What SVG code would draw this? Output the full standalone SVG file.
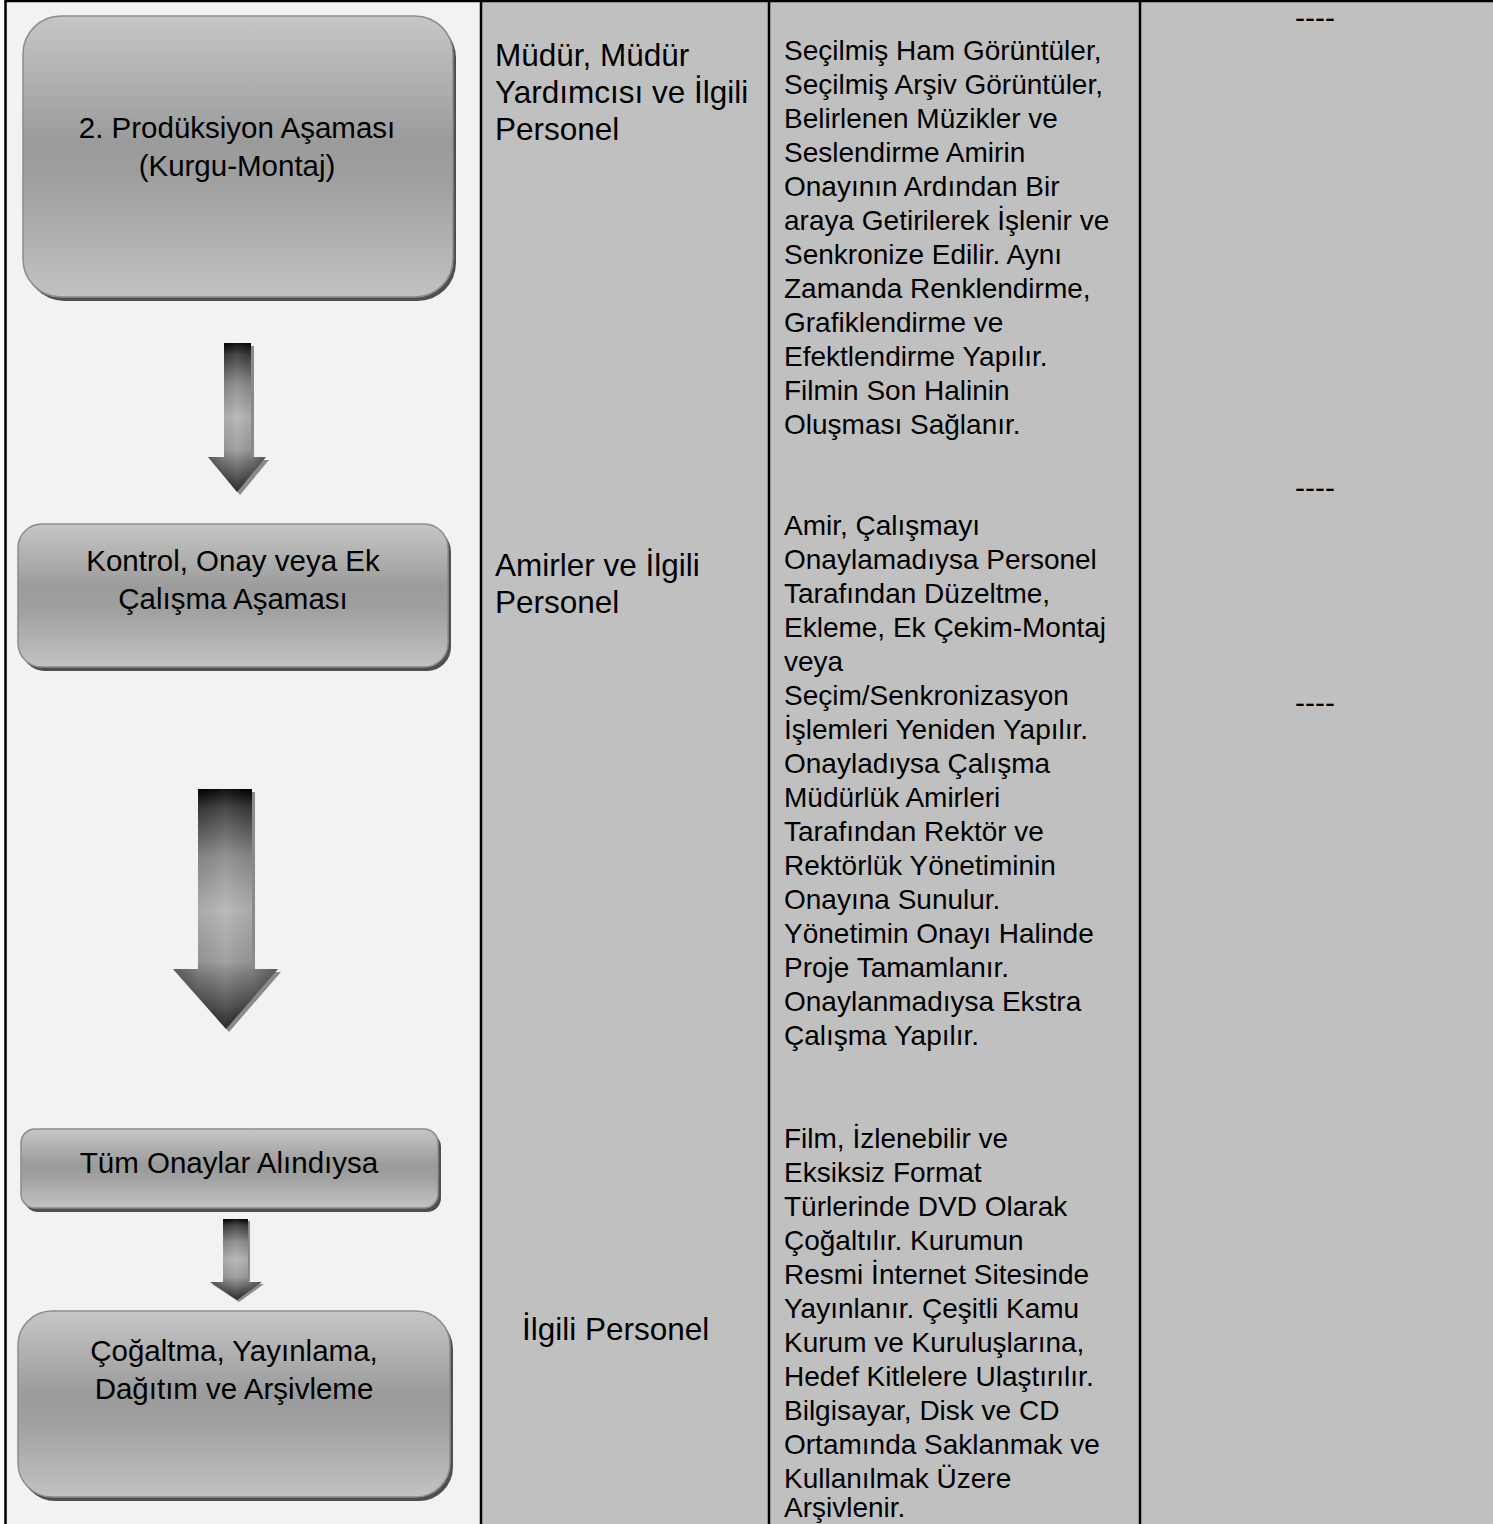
<svg xmlns="http://www.w3.org/2000/svg" width="1493" height="1524" viewBox="0 0 1493 1524">
<defs>
<style>
text{font-family:"Liberation Sans",Arial,sans-serif;fill:#000;}
.t{font-size:28px;}
.r{font-size:31.5px;}
.c{font-size:29.5px;text-anchor:middle;}
.d{font-size:30px;text-anchor:middle;}
.box{fill:url(#bg);stroke:#8c8c8c;stroke-width:1.5;}
.sh{fill:#4f4f4f;}
.grid{stroke:#000;stroke-width:2.5;fill:none;}
.arr{fill:url(#ag);}
.arrh{fill:url(#ah);}
.ash{fill:#8a8a8a;}
</style>
<linearGradient id="bg" x1="0" y1="0" x2="0" y2="1">
<stop offset="0" stop-color="#c6c6c6"/>
<stop offset="0.45" stop-color="#9b9b9b"/>
<stop offset="0.6" stop-color="#a0a0a0"/>
<stop offset="1" stop-color="#c2c2c2"/>
</linearGradient>
<linearGradient id="ag" x1="0" y1="0" x2="0" y2="1">
<stop offset="0" stop-color="#000"/>
<stop offset="0.08" stop-color="#3a3a3a"/>
<stop offset="0.28" stop-color="#8a8a8a"/>
<stop offset="0.5" stop-color="#b4b4b4"/>
<stop offset="0.72" stop-color="#9a9a9a"/>
<stop offset="0.76" stop-color="#858585"/>
<stop offset="0.9" stop-color="#4a4a4a"/>
<stop offset="1" stop-color="#1a1a1a"/>
</linearGradient>
<linearGradient id="ah" x1="0" y1="0" x2="1" y2="0">
<stop offset="0" stop-color="#000" stop-opacity="0.35"/>
<stop offset="0.25" stop-color="#000" stop-opacity="0.05"/>
<stop offset="0.5" stop-color="#fff" stop-opacity="0.08"/>
<stop offset="0.75" stop-color="#000" stop-opacity="0.05"/>
<stop offset="1" stop-color="#000" stop-opacity="0.35"/>
</linearGradient>
</defs>

<g id="table">
<rect x="5" y="0" width="476" height="1524" fill="#f2f2f2"/>
<rect x="481" y="0" width="1012" height="1524" fill="#c0c0c0"/>
<line class="grid" x1="5" y1="1" x2="1493" y2="1"/>
<line class="grid" x1="5.5" y1="0" x2="5.5" y2="1524"/>
<line class="grid" x1="481" y1="0" x2="481" y2="1524"/>
<line class="grid" x1="769" y1="0" x2="769" y2="1524"/>
<line class="grid" x1="1140" y1="0" x2="1140" y2="1524"/>
</g>

<g id="node-produksiyon">
<rect class="sh" x="26" y="20" width="430" height="281" rx="38"/>
<rect class="box" x="23" y="16" width="430" height="281" rx="38"/>
<text class="c" x="237" y="138">2. Prodüksiyon Aşaması</text>
<text class="c" x="237" y="176">(Kurgu-Montaj)</text>
</g>

<g id="node-kontrol">
<rect class="sh" x="21" y="528" width="430" height="143" rx="24"/>
<rect class="box" x="18" y="524" width="430" height="143" rx="24"/>
<text class="c" x="233" y="571">Kontrol, Onay veya Ek</text>
<text class="c" x="233" y="609">Çalışma Aşaması</text>
</g>

<g id="node-onaylar">
<rect class="sh" x="24" y="1133" width="417" height="79" rx="14"/>
<rect class="box" x="21" y="1129" width="417" height="79" rx="14"/>
<text class="c" x="229" y="1173">Tüm Onaylar Alındıysa</text>
</g>

<g id="node-cogaltma">
<rect class="sh" x="21" y="1315" width="432" height="186" rx="34"/>
<rect class="box" x="18" y="1311" width="432" height="186" rx="34"/>
<text class="c" x="234" y="1361">Çoğaltma, Yayınlama,</text>
<text class="c" x="234" y="1399">Dağıtım ve Arşivleme</text>
</g>

<g id="connectors">
<g id="arrow-1">
<polygon class="ash" points="227,346 254,346 254,460 269,460 240,495 211,460 227,460"/>
<polygon class="arr" points="224,343 251,343 251,457 266,457 237,492 208,457 224,457"/>
<polygon class="arrh" points="224,343 251,343 251,457 266,457 237,492 208,457 224,457"/>
</g>
<g id="arrow-2">
<polygon class="ash" points="201,792 255,792 255,972 281,972 229,1032 176,972 201,972"/>
<polygon class="arr" points="198,789 252,789 252,969 278,969 226,1029 173,969 198,969"/>
<polygon class="arrh" points="198,789 252,789 252,969 278,969 226,1029 173,969 198,969"/>
</g>
<g id="arrow-3">
<polygon class="ash" points="226,1221 250,1221 250,1284 264,1284 239,1302 212,1284 226,1284"/>
<polygon class="arr" points="223,1219 248,1219 248,1282 262,1282 237,1300 210,1282 223,1282"/>
<polygon class="arrh" points="223,1219 248,1219 248,1282 262,1282 237,1300 210,1282 223,1282"/>
</g>
</g>

<g id="col-sorumlu">
<text class="r" x="495" y="66">Müdür, Müdür</text>
<text class="r" x="495" y="103">Yardımcısı ve İlgili</text>
<text class="r" x="495" y="140">Personel</text>
<text class="r" x="495" y="576">Amirler ve İlgili</text>
<text class="r" x="495" y="613">Personel</text>
<text class="r" x="522" y="1340">İlgili Personel</text>
</g>

<g id="col-aciklama">
<text class="t" x="784" y="60">Seçilmiş Ham Görüntüler,</text>
<text class="t" x="784" y="94">Seçilmiş Arşiv Görüntüler,</text>
<text class="t" x="784" y="128">Belirlenen Müzikler ve</text>
<text class="t" x="784" y="162">Seslendirme Amirin</text>
<text class="t" x="784" y="196">Onayının Ardından Bir</text>
<text class="t" x="784" y="230">araya Getirilerek İşlenir ve</text>
<text class="t" x="784" y="264">Senkronize Edilir. Aynı</text>
<text class="t" x="784" y="298">Zamanda Renklendirme,</text>
<text class="t" x="784" y="332">Grafiklendirme ve</text>
<text class="t" x="784" y="366">Efektlendirme Yapılır.</text>
<text class="t" x="784" y="400">Filmin Son Halinin</text>
<text class="t" x="784" y="434">Oluşması Sağlanır.</text>

<text class="t" x="784" y="535">Amir, Çalışmayı</text>
<text class="t" x="784" y="569">Onaylamadıysa Personel</text>
<text class="t" x="784" y="603">Tarafından Düzeltme,</text>
<text class="t" x="784" y="637">Ekleme, Ek Çekim-Montaj</text>
<text class="t" x="784" y="671">veya</text>
<text class="t" x="784" y="705">Seçim/Senkronizasyon</text>
<text class="t" x="784" y="739">İşlemleri Yeniden Yapılır.</text>
<text class="t" x="784" y="773">Onayladıysa Çalışma</text>
<text class="t" x="784" y="807">Müdürlük Amirleri</text>
<text class="t" x="784" y="841">Tarafından Rektör ve</text>
<text class="t" x="784" y="875">Rektörlük Yönetiminin</text>
<text class="t" x="784" y="909">Onayına Sunulur.</text>
<text class="t" x="784" y="943">Yönetimin Onayı Halinde</text>
<text class="t" x="784" y="977">Proje Tamamlanır.</text>
<text class="t" x="784" y="1011">Onaylanmadıysa Ekstra</text>
<text class="t" x="784" y="1045">Çalışma Yapılır.</text>

<text class="t" x="784" y="1148">Film, İzlenebilir ve</text>
<text class="t" x="784" y="1182">Eksiksiz Format</text>
<text class="t" x="784" y="1216">Türlerinde DVD Olarak</text>
<text class="t" x="784" y="1250">Çoğaltılır. Kurumun</text>
<text class="t" x="784" y="1284">Resmi İnternet Sitesinde</text>
<text class="t" x="784" y="1318">Yayınlanır. Çeşitli Kamu</text>
<text class="t" x="784" y="1352">Kurum ve Kuruluşlarına,</text>
<text class="t" x="784" y="1386">Hedef Kitlelere Ulaştırılır.</text>
<text class="t" x="784" y="1420">Bilgisayar, Disk ve CD</text>
<text class="t" x="784" y="1454">Ortamında Saklanmak ve</text>
<text class="t" x="784" y="1488">Kullanılmak Üzere</text>
<text class="t" x="784" y="1517">Arşivlenir.</text>
</g>

<g id="col-dokuman">
<text class="d" x="1315" y="28">----</text>
<text class="d" x="1315" y="498">----</text>
<text class="d" x="1315" y="713">----</text>
</g>
</svg>
